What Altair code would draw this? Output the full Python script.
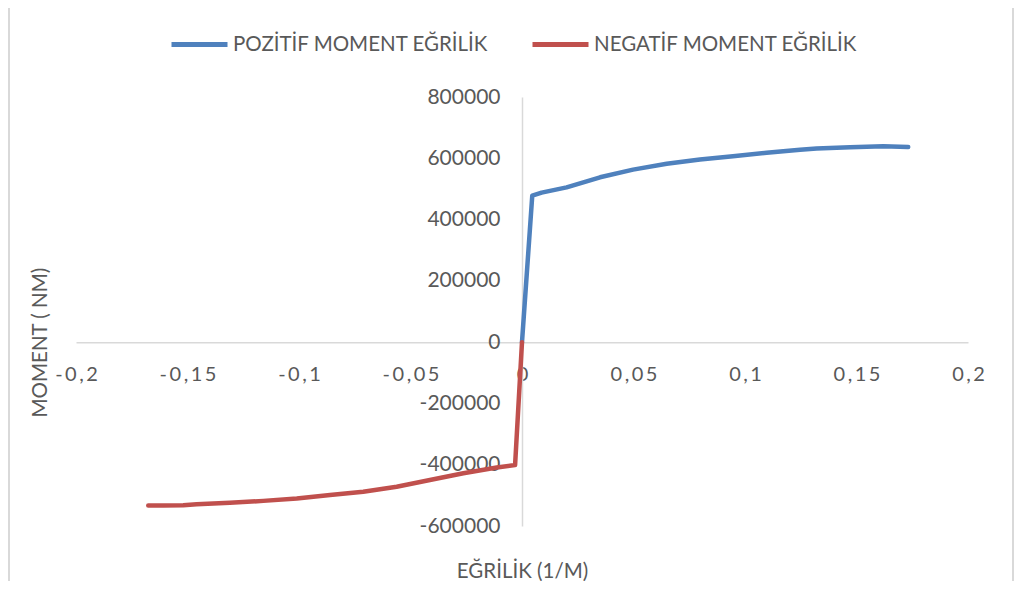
import altair as alt
import pandas as pd

# Positive moment-curvature curve
pos_curv = [0.0, 0.0046, 0.0088, 0.020, 0.035, 0.0498, 0.0649, 0.0798, 0.0946, 0.1097, 0.1247, 0.1321, 0.1471, 0.162, 0.1732]
pos_mom = [0, 478000, 488000, 505000, 538000, 563000, 582000, 596000, 607000, 618000, 628000, 632000, 636000, 639000, 637000]

# Negative moment-curvature curve
neg_curv = [0.0, -0.0031, -0.0113, -0.0263, -0.0413, -0.0562, -0.0712, -0.0861, -0.101, -0.116, -0.131, -0.1459, -0.1519, -0.1609, -0.1676]
neg_mom = [0, -401000, -409000, -428000, -450000, -472000, -488000, -499000, -510000, -518000, -524000, -529000, -532000, -533000, -533000]

series_names = ["POZİTİF MOMENT EĞRİLİK", "NEGATİF MOMENT EĞRİLİK"]
series_colors = ["#4F81BD", "#C0504D"]

x_tick_values = [-0.2, -0.15, -0.1, -0.05, 0, 0.05, 0.1, 0.15, 0.2]
x_tick_labels = ["-0,2", "-0,15", "-0,1", "-0,05", "0", "0,05", "0,1", "0,15", "0,2"]
y_tick_values = [-600000, -400000, -200000, 0, 200000, 400000, 600000, 800000]

rows = []
for i, (c, m) in enumerate(zip(pos_curv, pos_mom)):
    rows.append({"curv": c, "mom": m, "series": series_names[0], "idx": i})
for i, (c, m) in enumerate(zip(neg_curv, neg_mom)):
    rows.append({"curv": c, "mom": m, "series": series_names[1], "idx": i})
df = pd.DataFrame(rows)

THIN = "\u2009"
spaced = [THIN.join(list(s)) for s in x_tick_labels]
expr = "''"
for v, lab in reversed(list(zip(x_tick_values, spaced))):
    expr = f"(round(datum.value*100) == {round(v*100)} ? '{lab}' : {expr})"

W, H = 892, 429
PAD_L, PAD_T, PAD_R, PAD_B = 68, 89, 46, 55
FONT = "Lato"
GRAY = "#595959"
y_zero_from_bottom = H * 600000 / 1400000
x_zero_from_left = W * 0.5

lines = alt.Chart(df).mark_line(strokeWidth=4.5, strokeCap="round", strokeJoin="round").encode(
    x=alt.X("curv:Q",
            scale=alt.Scale(domain=[-0.2, 0.2], nice=False, zero=False),
            axis=alt.Axis(values=x_tick_values, labelExpr=expr, grid=False, ticks=False, tickSize=0,
                          offset=-y_zero_from_bottom, labelPadding=22, labelFontSize=20,
                          labelFont=FONT, labelColor=GRAY, labelFlush=False, labelOverlap=False,
                          domainColor="#d9d9d9", domainWidth=1.5,
                          title="EĞRİLİK (1/M)", titleFont=FONT, titleFontSize=20.5, titleFontWeight="normal",
                          titleColor=GRAY, titleX=x_zero_from_left, titleY=229,
                          titleBaseline="middle", titleAlign="center")),
    y=alt.Y("mom:Q",
            scale=alt.Scale(domain=[-600000, 800000], nice=False, zero=False),
            axis=alt.Axis(values=y_tick_values, labelExpr="'' + datum.value", grid=False, ticks=False, tickSize=0,
                          offset=-x_zero_from_left, labelPadding=22, labelFontSize=21,
                          labelFont=FONT, labelColor=GRAY, labelFlush=False, labelOverlap=False,
                          domainColor="#d9d9d9", domainWidth=1.5,
                          title="MOMENT ( NM)", titleFont=FONT, titleFontSize=20.5, titleFontWeight="normal",
                          titleColor=GRAY, titleX=-482, titleY=H - y_zero_from_bottom,
                          titleAngle=270, titleBaseline="middle", titleAlign="center")),
    color=alt.Color("series:N",
                    scale=alt.Scale(domain=series_names, range=series_colors),
                    legend=alt.Legend(title=None, orient="none", direction="horizontal",
                                      legendX=93, legendY=-83, symbolType="stroke",
                                      symbolSize=3136, symbolStrokeWidth=5, labelFont=FONT,
                                      labelFontSize=20.5, labelColor=GRAY, labelOffset=3,
                                      columnPadding=33, padding=0, labelLimit=400)),
    order="idx:Q",
)

border = alt.Chart(alt.Data(values=[{"a": 1}])).mark_rect(
    fill="transparent", stroke="#d9d9d9", strokeWidth=2
).encode(
    x=alt.value(-PAD_L + 1), x2=alt.value(W + PAD_R - 1),
    y=alt.value(-PAD_T - 1), y2=alt.value(H + PAD_B + 40),
)

chart = alt.layer(border, lines).properties(
    width=W, height=H,
    autosize=alt.AutoSizeParams(type="none"),
    padding={"left": PAD_L, "top": PAD_T, "right": PAD_R, "bottom": PAD_B},
    background="white",
).configure_view(strokeWidth=0)

chart.save("out.html", embed_options={"renderer": "svg", "actions": False})
